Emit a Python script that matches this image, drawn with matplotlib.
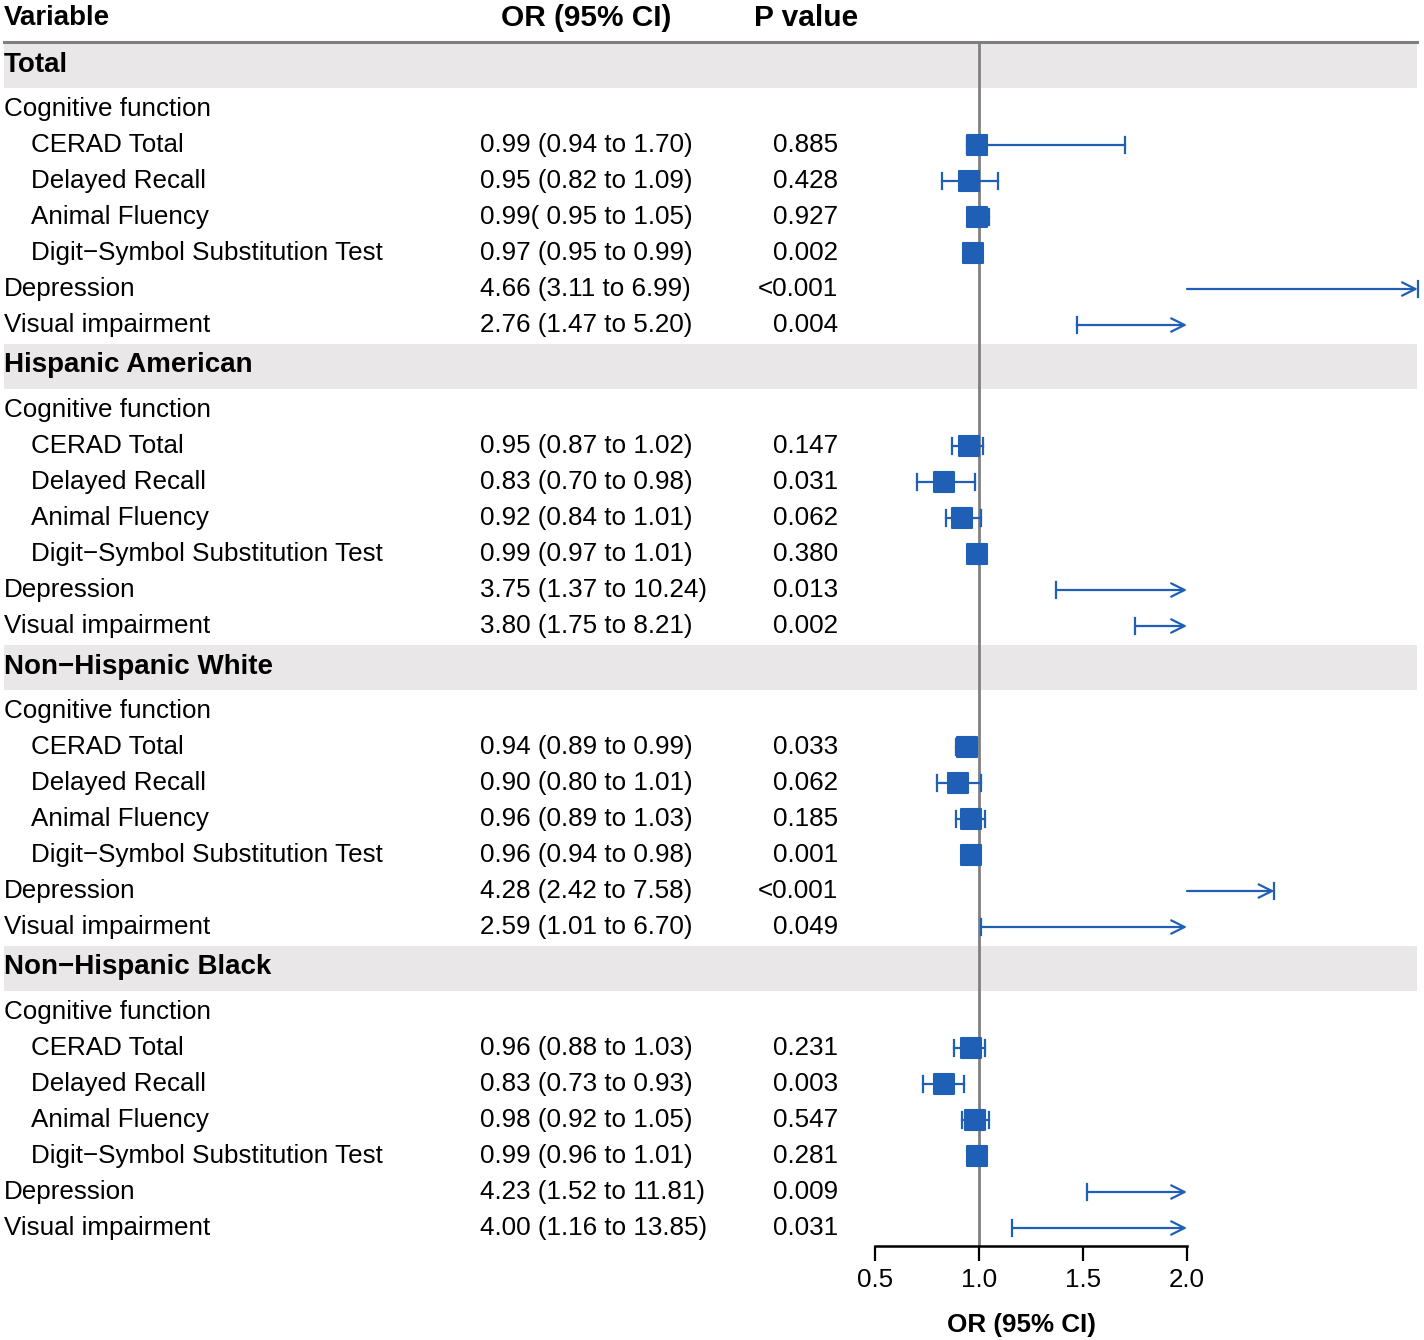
import matplotlib
matplotlib.use("Agg")
import matplotlib.pyplot as plt
from matplotlib.patches import Rectangle
from matplotlib.markers import MarkerStyle
from matplotlib.transforms import blended_transform_factory

plt.rcParams['font.family'] = ['Liberation Sans', 'DejaVu Sans']

# Dữ liệu
groups = ["Total", "Hispanic American", "Non\u2212Hispanic White", "Non\u2212Hispanic Black"]
measures = ["CERAD Total", "Delayed Recall", "Animal Fluency",
            "Digit\u2212Symbol Substitution Test", "Depression", "Visual impairment"]
indented = [True, True, True, True, False, False]

or_vals = [
    [0.99, 0.95, 0.99, 0.97, 4.66, 2.76],
    [0.95, 0.83, 0.92, 0.99, 3.75, 3.80],
    [0.94, 0.90, 0.96, 0.96, 4.28, 2.59],
    [0.96, 0.83, 0.98, 0.99, 4.23, 4.00],
]
lo_vals = [
    [0.94, 0.82, 0.95, 0.95, 3.11, 1.47],
    [0.87, 0.70, 0.84, 0.97, 1.37, 1.75],
    [0.89, 0.80, 0.89, 0.94, 2.42, 1.01],
    [0.88, 0.73, 0.92, 0.96, 1.52, 1.16],
]
hi_vals = [
    [1.70, 1.09, 1.05, 0.99, 6.99, 5.20],
    [1.02, 0.98, 1.01, 1.01, 10.24, 8.21],
    [0.99, 1.01, 1.03, 0.98, 7.58, 6.70],
    [1.03, 0.93, 1.05, 1.01, 11.81, 13.85],
]
or_text = [
    ["0.99 (0.94 to 1.70)", "0.95 (0.82 to 1.09)", "0.99( 0.95 to 1.05)",
     "0.97 (0.95 to 0.99)", "4.66 (3.11 to 6.99)", "2.76 (1.47 to 5.20)"],
    ["0.95 (0.87 to 1.02)", "0.83 (0.70 to 0.98)", "0.92 (0.84 to 1.01)",
     "0.99 (0.97 to 1.01)", "3.75 (1.37 to 10.24)", "3.80 (1.75 to 8.21)"],
    ["0.94 (0.89 to 0.99)", "0.90 (0.80 to 1.01)", "0.96 (0.89 to 1.03)",
     "0.96 (0.94 to 0.98)", "4.28 (2.42 to 7.58)", "2.59 (1.01 to 6.70)"],
    ["0.96 (0.88 to 1.03)", "0.83 (0.73 to 0.93)", "0.98 (0.92 to 1.05)",
     "0.99 (0.96 to 1.01)", "4.23 (1.52 to 11.81)", "4.00 (1.16 to 13.85)"],
]
p_text = [
    ["0.885", "0.428", "0.927", "0.002", "<0.001", "0.004"],
    ["0.147", "0.031", "0.062", "0.380", "0.013", "0.002"],
    ["0.033", "0.062", "0.185", "0.001", "<0.001", "0.049"],
    ["0.231", "0.003", "0.547", "0.281", "0.009", "0.031"],
]
x_ticks = [0.5, 1.0, 1.5, 2.0]
x_min, x_max = 0.5, 2.0

blue = '#1F5FB5'
band_color = '#E9E7E8'
fs = 18.7        # chữ thường
fs_group = 20    # tên nhóm
fs_head = 21.5   # tiêu đề cột

# Kích thước (pixel)
W, H = 1424, 1340
top_px, group_h, row_h = 42, 49, 36
total_h = len(groups) * (group_h + 7 * row_h)

fig = plt.figure(figsize=(W / 100, H / 100), dpi=100)
ax = fig.add_axes([875 / W, 1 - (top_px + total_h) / H, 312 / W, total_h / H])
ax.set_xlim(x_min, x_max)
ax.set_ylim(total_h, 0)

tr = blended_transform_factory(fig.transFigure, ax.transData)
col_var, col_ind, col_or, col_p = 4 / W, 31 / W, 480 / W, 838 / W

# Tiêu đề cột
ax.text(col_var, -24, "Variable", transform=tr, fontsize=20, fontweight='bold',
        va='center', ha='left')
ax.text(586 / W, -24, "OR (95% CI)", transform=tr, fontsize=fs_head, fontweight='bold',
        va='center', ha='center')
ax.text(806 / W, -24, "P value", transform=tr, fontsize=fs_head, fontweight='bold',
        va='center', ha='center')
ax.plot([4 / W, 1417 / W], [0, 0], transform=tr, color='#7F7F7F', lw=2.2,
        clip_on=False, zorder=3)

square = MarkerStyle('s', joinstyle='round')

cur = 0
for g, gname in enumerate(groups):
    # Hàng nhóm
    ax.add_patch(Rectangle((4 / W, cur + 1), 1413 / W, group_h - 4, transform=tr,
                           facecolor=band_color, edgecolor='none', clip_on=False, zorder=0))
    ax.text(col_var, cur + group_h / 2 - 2, gname, transform=tr, fontsize=fs_group,
            fontweight='bold', va='center', ha='left')
    cur += group_h
    ax.text(col_var, cur + row_h / 2, "Cognitive function", transform=tr,
            fontsize=fs, va='center', ha='left')
    cur += row_h
    for i, m in enumerate(measures):
        y = cur + row_h / 2
        ax.text(col_ind if indented[i] else col_var, y, m, transform=tr,
                fontsize=fs, va='center', ha='left')
        ax.text(col_or, y, or_text[g][i], transform=tr, fontsize=fs,
                va='center', ha='left')
        ax.text(col_p, y, p_text[g][i], transform=tr, fontsize=fs,
                va='center', ha='right')

        est, lo, hi = or_vals[g][i], lo_vals[g][i], hi_vals[g][i]
        cap = 8
        if lo > x_max:
            # khoảng tin cậy nằm ngoài trục
            ax.annotate('', xy=(lo, y), xytext=(x_max, y), annotation_clip=False,
                        arrowprops=dict(arrowstyle='->', color=blue, lw=1.6,
                                        mutation_scale=24, shrinkA=0, shrinkB=0,
                                        clip_on=False))
            ax.plot([lo, lo], [y - cap, y + cap], color=blue, lw=1.6, clip_on=False)
        elif hi > x_max:
            ax.annotate('', xy=(x_max, y), xytext=(lo, y), annotation_clip=False,
                        arrowprops=dict(arrowstyle='->', color=blue, lw=1.6,
                                        mutation_scale=24, shrinkA=0, shrinkB=0,
                                        clip_on=False))
            ax.plot([lo, lo], [y - cap, y + cap], color=blue, lw=1.6, clip_on=False)
        else:
            ax.plot([lo, hi], [y, y], color=blue, lw=1.6, zorder=3)
            ax.plot([lo, lo], [y - cap, y + cap], color=blue, lw=1.6, zorder=3)
            ax.plot([hi, hi], [y - cap, y + cap], color=blue, lw=1.6, zorder=3)
        if est <= x_max:
            ax.plot(est, y, marker=square, ms=14.5, color=blue, mec=blue, mew=1.5,
                    zorder=4)
        cur += row_h

ax.axvline(1.0, color='#808080', lw=2, zorder=1)

for s in ['top', 'right', 'left']:
    ax.spines[s].set_visible(False)
ax.spines['bottom'].set_linewidth(1.8)
ax.set_yticks([])
ax.set_xticks(x_ticks)
ax.set_xticklabels([f"{t:.1f}" for t in x_ticks])
ax.tick_params(axis='x', direction='out', length=11, width=1.6, labelsize=fs, pad=5)
ax.set_xlabel("OR (95% CI)", fontsize=fs, fontweight='bold', labelpad=17)
ax.xaxis.set_label_coords(0.47, -0.056)
ax.patch.set_visible(False)

fig.savefig("out.png", dpi=100)
